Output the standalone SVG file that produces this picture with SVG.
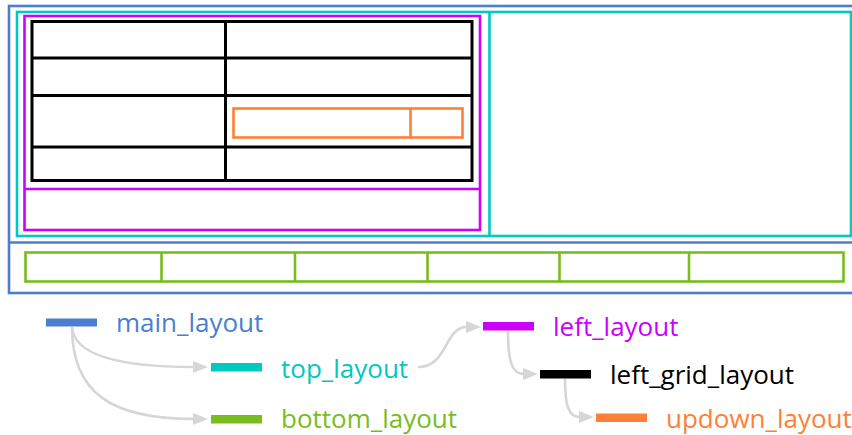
<svg xmlns="http://www.w3.org/2000/svg" width="852" height="435" viewBox="0 0 852 435">
<style>
.box{fill:none;stroke-width:2.6}
.blue{stroke:#4a7fd0}
.cyan{stroke:#00c8c2}
.mag{stroke:#cc00ff}
.blk{stroke:#000;stroke-width:3}
.org{stroke:#ff7f36}
.grn{stroke:#79bc1e}
.lbl{font-family:"Open Sans","Noto Sans",sans-serif;font-size:26px}
.conn{fill:none;stroke:#d6d6d6;stroke-width:2.6}
</style>
<defs>
<marker id="arr" markerUnits="userSpaceOnUse" markerWidth="16" markerHeight="12" viewBox="0 0 16 12" refX="1" refY="6" orient="auto">
<path d="M0,0 L15,6 L0,12 Z" fill="#d6d6d6"/>
</marker>
</defs>
<rect width="852" height="435" fill="#fff"/>
<g id="main_layout_box">
<rect class="box blue" x="9" y="6" width="860" height="287"/>
<line class="box blue" x1="9" y1="242.5" x2="852" y2="242.5"/>
</g>
<g id="top_layout_box">
<rect class="box cyan" x="17" y="12" width="834" height="224"/>
<line class="box cyan" x1="489.5" y1="12" x2="489.5" y2="236"/>
</g>
<g id="left_layout_box">
<rect class="box mag" x="24.5" y="16" width="455.5" height="214"/>
<line class="box mag" x1="24.5" y1="189" x2="480" y2="189"/>
</g>
<g id="left_grid_layout_box">
<rect class="box blk" x="32" y="21.5" width="440" height="159"/>
<line class="box blk" x1="32" y1="58" x2="472" y2="58"/>
<line class="box blk" x1="32" y1="95.5" x2="472" y2="95.5"/>
<line class="box blk" x1="32" y1="147" x2="472" y2="147"/>
<line class="box blk" x1="225.5" y1="21.5" x2="225.5" y2="180.5"/>
</g>
<g id="updown_layout_box">
<rect class="box org" x="233.5" y="108.5" width="229" height="29"/>
<line class="box org" x1="410.5" y1="108.5" x2="410.5" y2="137.5"/>
</g>
<g id="bottom_layout_box">
<rect class="box grn" x="25.5" y="252.5" width="818" height="29"/>
<line class="box grn" x1="161.5" y1="252.5" x2="161.5" y2="281.5"/>
<line class="box grn" x1="295" y1="252.5" x2="295" y2="281.5"/>
<line class="box grn" x1="427.5" y1="252.5" x2="427.5" y2="281.5"/>
<line class="box grn" x1="559.5" y1="252.5" x2="559.5" y2="281.5"/>
<line class="box grn" x1="689" y1="252.5" x2="689" y2="281.5"/>
</g>
<g id="connectors">
<path class="conn" marker-end="url(#arr)" d="M72,327 C74,355 120,367 194,367"/>
<path class="conn" marker-end="url(#arr)" d="M72,327 C72,392 110,419 194,419"/>
<path class="conn" marker-end="url(#arr)" d="M418,367 C448,367 444,327 467,327"/>
<path class="conn" marker-end="url(#arr)" d="M508,331 C508,362 512,374 524,374"/>
<path class="conn" marker-end="url(#arr)" d="M565,379 C565,407 569,417 580,417"/>
</g>
<g id="main_layout">
<rect x="46" y="318.5" width="51" height="8" fill="#4a7fd0"/>
<text class="lbl" x="116" y="332" fill="#4a7fd0">main_layout</text>
</g>
<g id="top_layout">
<rect x="211" y="363" width="51" height="8.5" fill="#00c8c2"/>
<text class="lbl" x="281" y="377.5" fill="#00c8c2">top_layout</text>
</g>
<g id="bottom_layout">
<rect x="211" y="415" width="51" height="8.5" fill="#79bc1e"/>
<text class="lbl" x="281" y="428" fill="#79bc1e">bottom_layout</text>
</g>
<g id="left_layout">
<rect x="483" y="322" width="51" height="8.5" fill="#cc00ff"/>
<text class="lbl" x="553" y="336" fill="#cc00ff">left_layout</text>
</g>
<g id="left_grid_layout">
<rect x="540" y="370" width="51" height="8.5" fill="#000"/>
<text class="lbl" x="610" y="383.5" fill="#000">left_grid_layout</text>
</g>
<g id="updown_layout">
<rect x="596" y="413.5" width="51" height="8.5" fill="#ff7f36"/>
<text class="lbl" x="666" y="427.5" fill="#ff7f36">updown_layout</text>
</g>
</svg>
